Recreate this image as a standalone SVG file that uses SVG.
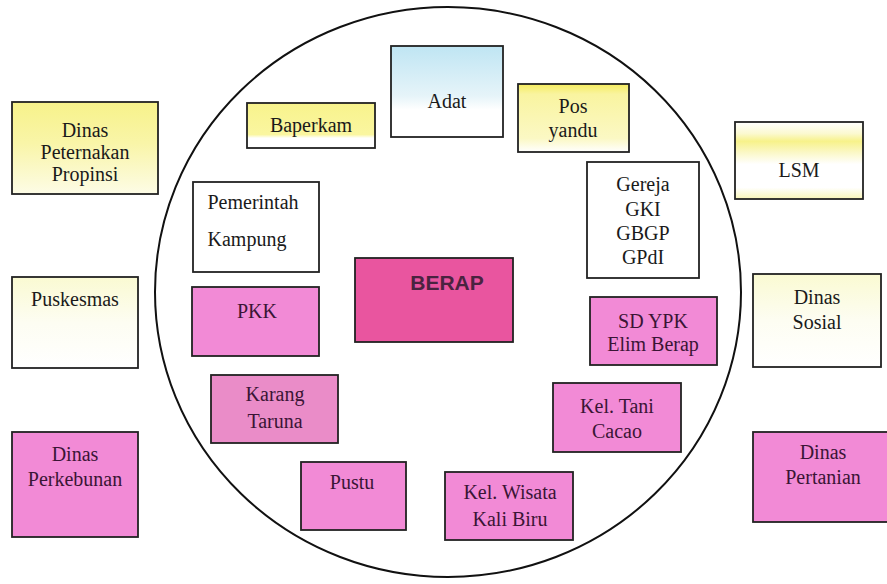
<svg xmlns="http://www.w3.org/2000/svg" width="887" height="584" viewBox="0 0 887 584">
<defs>
<linearGradient id="gYel1" x1="0" y1="0" x2="0" y2="1"><stop offset="0" stop-color="#f7f28a"/><stop offset="0.45" stop-color="#f9f5a8"/><stop offset="1" stop-color="#fdfce6"/></linearGradient>
<linearGradient id="gYel2" x1="0" y1="0" x2="0" y2="1"><stop offset="0" stop-color="#f8f38c"/><stop offset="0.7" stop-color="#faf6a0"/><stop offset="0.78" stop-color="#ffffff"/><stop offset="1" stop-color="#ffffff"/></linearGradient>
<linearGradient id="gBlue" x1="0" y1="0" x2="0" y2="1"><stop offset="0" stop-color="#bfe5f3"/><stop offset="0.55" stop-color="#e6f4f9"/><stop offset="0.7" stop-color="#ffffff"/><stop offset="1" stop-color="#ffffff"/></linearGradient>
<linearGradient id="gPos" x1="0" y1="0" x2="0" y2="1"><stop offset="0" stop-color="#f5ec5e"/><stop offset="0.15" stop-color="#f9f4a0"/><stop offset="0.8" stop-color="#fbf8c4"/><stop offset="1" stop-color="#ffffff"/></linearGradient>
<linearGradient id="gLsm" x1="0" y1="0" x2="0" y2="1"><stop offset="0" stop-color="#ffffff"/><stop offset="0.15" stop-color="#fbf9d0"/><stop offset="0.25" stop-color="#f7f28a"/><stop offset="0.4" stop-color="#fbf8c8"/><stop offset="0.55" stop-color="#ffffff"/><stop offset="0.85" stop-color="#ffffff"/><stop offset="1" stop-color="#f9f6b8"/></linearGradient>
<linearGradient id="gPale" x1="0" y1="0" x2="0" y2="1"><stop offset="0" stop-color="#fafad2"/><stop offset="0.5" stop-color="#fdfdf2"/><stop offset="1" stop-color="#ffffff"/></linearGradient>
<style>
.box{stroke:#222;stroke-width:1.8}
.white{fill:#ffffff}
.pink{fill:#f28ad6}
.t{font-family:"Liberation Serif","Times New Roman",serif;font-size:20px;fill:#1a1a1a;text-anchor:middle}
.tp{font-family:"Liberation Serif","Times New Roman",serif;font-size:20px;fill:#3a1535;text-anchor:middle}
.big{font-family:"Liberation Sans",Arial,sans-serif;font-weight:bold;font-size:21px;fill:#4a2340;text-anchor:middle}
</style>
</defs>
<g id="connectors">
<ellipse cx="448" cy="292" rx="293" ry="285" fill="none" stroke="#111" stroke-width="2"/>
</g>
<g id="dinas-peternakan"><rect class="box" x="12" y="102" width="146" height="92" fill="url(#gYel1)"/><text class="t" x="85" y="137">Dinas</text><text class="t" x="85" y="159">Peternakan</text><text class="t" x="85" y="181">Propinsi</text></g>
<g id="baperkam"><rect class="box" x="247" y="103" width="128" height="45" fill="url(#gYel2)"/><text class="t" x="311" y="132">Baperkam</text></g>
<g id="adat"><rect class="box" x="391" y="46" width="112" height="91" fill="url(#gBlue)"/><text class="t" x="447" y="108">Adat</text></g>
<g id="posyandu"><rect class="box" x="518" y="84" width="111" height="68" fill="url(#gPos)"/><text class="t" x="573" y="113">Pos</text><text class="t" x="573" y="137">yandu</text></g>
<g id="lsm"><rect class="box" x="735" y="122" width="128" height="77" fill="url(#gLsm)"/><text class="t" x="799" y="177">LSM</text></g>
<g id="pemerintah"><rect class="box white" x="193" y="182" width="126" height="90"/><text class="t" x="253" y="209">Pemerintah</text><text class="t" x="247" y="246">Kampung</text></g>
<g id="gereja"><rect class="box white" x="587" y="162" width="112" height="116"/><text class="t" x="643" y="191">Gereja</text><text class="t" x="643" y="216">GKI</text><text class="t" x="643" y="240">GBGP</text><text class="t" x="643" y="264">GPdI</text></g>
<g id="berap"><rect class="box" x="355" y="258" width="158" height="84" fill="#e9559f"/><text class="big" x="447" y="290">BERAP</text></g>
<g id="sdypk"><rect class="box pink" x="590" y="297" width="127" height="68"/><text class="tp" x="653" y="328">SD YPK</text><text class="tp" x="653" y="351">Elim Berap</text></g>
<g id="pkk"><rect class="box pink" x="192" y="287" width="127" height="69"/><text class="tp" x="257" y="318">PKK</text></g>
<g id="karang-taruna"><rect class="box" x="211" y="375" width="127" height="68" fill="#ea8cc8"/><text class="tp" x="275" y="401">Karang</text><text class="tp" x="275" y="428">Taruna</text></g>
<g id="kel-tani"><rect class="box pink" x="553" y="383" width="128" height="69"/><text class="tp" x="617" y="413">Kel. Tani</text><text class="tp" x="617" y="438">Cacao</text></g>
<g id="puskesmas"><rect class="box" x="12" y="277" width="126" height="91" fill="url(#gPale)"/><text class="t" x="75" y="306">Puskesmas</text></g>
<g id="dinas-perkebunan"><rect class="box pink" x="12" y="432" width="126" height="105"/><text class="tp" x="75" y="461">Dinas</text><text class="tp" x="75" y="486">Perkebunan</text></g>
<g id="dinas-sosial"><rect class="box" x="753" y="274" width="128" height="93" fill="url(#gPale)"/><text class="t" x="817" y="304">Dinas</text><text class="t" x="817" y="329">Sosial</text></g>
<g id="dinas-pertanian"><rect class="box pink" x="753" y="432" width="140" height="90"/><text class="tp" x="823" y="459">Dinas</text><text class="tp" x="823" y="484">Pertanian</text></g>
<g id="pustu"><rect class="box pink" x="301" y="462" width="105" height="68"/><text class="tp" x="352" y="489">Pustu</text></g>
<g id="kel-wisata"><rect class="box pink" x="445" y="472" width="128" height="68"/><text class="tp" x="510" y="499">Kel. Wisata</text><text class="tp" x="510" y="526">Kali Biru</text></g>
</svg>
